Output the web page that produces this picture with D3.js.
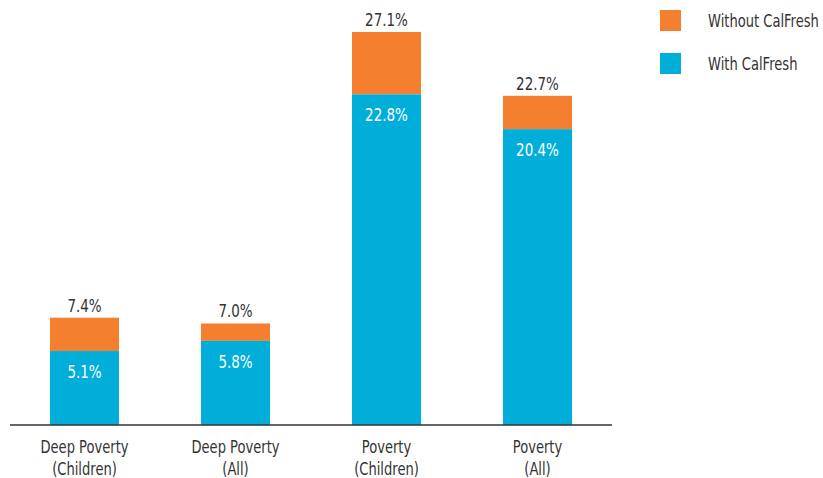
<!DOCTYPE html>
<html>
<head>
<meta charset="utf-8">
<script src="https://cdn.jsdelivr.net/npm/d3@7"></script>
<style>
  body { margin: 0; background: #fff; }
  text { font-family: "DejaVu Sans", sans-serif; }
</style>
</head>
<body>
<div id="chart"></div>
<script>
// Poverty rates with and without CalFresh
var categories = [["Deep Poverty", "(Children)"], ["Deep Poverty", "(All)"], ["Poverty", "(Children)"], ["Poverty", "(All)"]];
var withCalFresh = [5.1, 5.8, 22.8, 20.4];
var withoutCalFresh = [7.4, 7.0, 27.1, 22.7];
var seriesNames = ["Without CalFresh", "With CalFresh"];
var colors = ["#f37f2f", "#00aed9"];

var width = 823, height = 478;
var baseY = 425;
var squeeze = 0.77; // no condensed font installed, so squeeze the text a bit

var svg = d3.select("#chart").append("svg")
    .attr("width", width)
    .attr("height", height);

var keys = categories.map(function (d) { return d.join(" "); });

// band scale: bars 69px wide on a 151px step
var x = d3.scaleBand()
    .domain(keys)
    .range([9, 613])
    .paddingInner(0.543)
    .paddingOuter(0.2715);

var y = d3.scaleLinear()
    .domain([0, 27.1])
    .range([baseY, 32]);

var rows = keys.map(function (k, i) {
  return { key: k, lines: categories[i], inner: withCalFresh[i], total: withoutCalFresh[i] };
});

// orange part (total) first, blue on top of it
svg.selectAll("rect.total")
    .data(rows)
    .enter().append("rect")
    .attr("class", "total")
    .attr("x", function (d) { return x(d.key); })
    .attr("width", x.bandwidth())
    .attr("y", function (d) { return y(d.total); })
    .attr("height", function (d) { return y(d.inner) - y(d.total); })
    .attr("fill", colors[0]);

svg.selectAll("rect.inner")
    .data(rows)
    .enter().append("rect")
    .attr("class", "inner")
    .attr("x", function (d) { return x(d.key); })
    .attr("width", x.bandwidth())
    .attr("y", function (d) { return y(d.inner); })
    .attr("height", function (d) { return baseY - y(d.inner); })
    .attr("fill", colors[1]);

// value labels
svg.selectAll("text.totLabel")
    .data(rows)
    .enter().append("text")
    .attr("class", "totLabel")
    .attr("x", function (d) { return x(d.key) + x.bandwidth() / 2; })
    .attr("y", function (d) { return y(d.total) - 6; })
    .attr("text-anchor", "middle")
    .attr("font-size", 17.5)
    .attr("fill", "#333")
    .text(function (d) { return d.total.toFixed(1) + "%"; });

svg.selectAll("text.inLabel")
    .data(rows)
    .enter().append("text")
    .attr("class", "inLabel")
    .attr("x", function (d) { return x(d.key) + x.bandwidth() / 2; })
    .attr("y", function (d) { return y(d.inner) + 27; })
    .attr("text-anchor", "middle")
    .attr("font-size", 17.5)
    .attr("fill", "#fff")
    .text(function (d) { return d.inner.toFixed(1) + "%"; });

// x axis line + two-line category labels
var xAxis = d3.axisBottom(x).tickSize(0).tickFormat("");
var gx = svg.append("g")
    .attr("transform", "translate(0," + baseY + ")")
    .call(xAxis);
gx.select(".domain").attr("stroke", "#333").attr("stroke-width", 1.5)
    .attr("d", "M10,0H612");

gx.selectAll(".tick").each(function (k, i) {
  var g = d3.select(this);
  g.select("text").remove();
  categories[i].forEach(function (line, j) {
    g.append("text")
        .attr("x", 0)
        .attr("y", 28 + j * 22)
        .attr("text-anchor", "middle")
        .attr("font-size", 17)
        .attr("fill", "#333")
        .text(line);
  });
});

// legend
var legend = svg.selectAll("g.legend")
    .data(seriesNames)
    .enter().append("g")
    .attr("class", "legend")
    .attr("transform", function (d, i) { return "translate(660," + (10 + i * 43) + ")"; });

legend.append("rect")
    .attr("width", 21)
    .attr("height", 21)
    .attr("fill", function (d, i) { return colors[i]; });

legend.append("text")
    .attr("x", 48)
    .attr("y", 17)
    .attr("font-size", 17)
    .attr("fill", "#333")
    .text(function (d) { return d; });

// condense every label: move x/y into a transform and scale horizontally
svg.selectAll("text").each(function () {
  var t = d3.select(this);
  var tx = +t.attr("x") || 0, ty = +t.attr("y") || 0;
  t.attr("x", 0).attr("y", 0)
      .attr("transform", "translate(" + tx + "," + ty + ") scale(" + squeeze + ",1)");
});
</script>
</body>
</html>
